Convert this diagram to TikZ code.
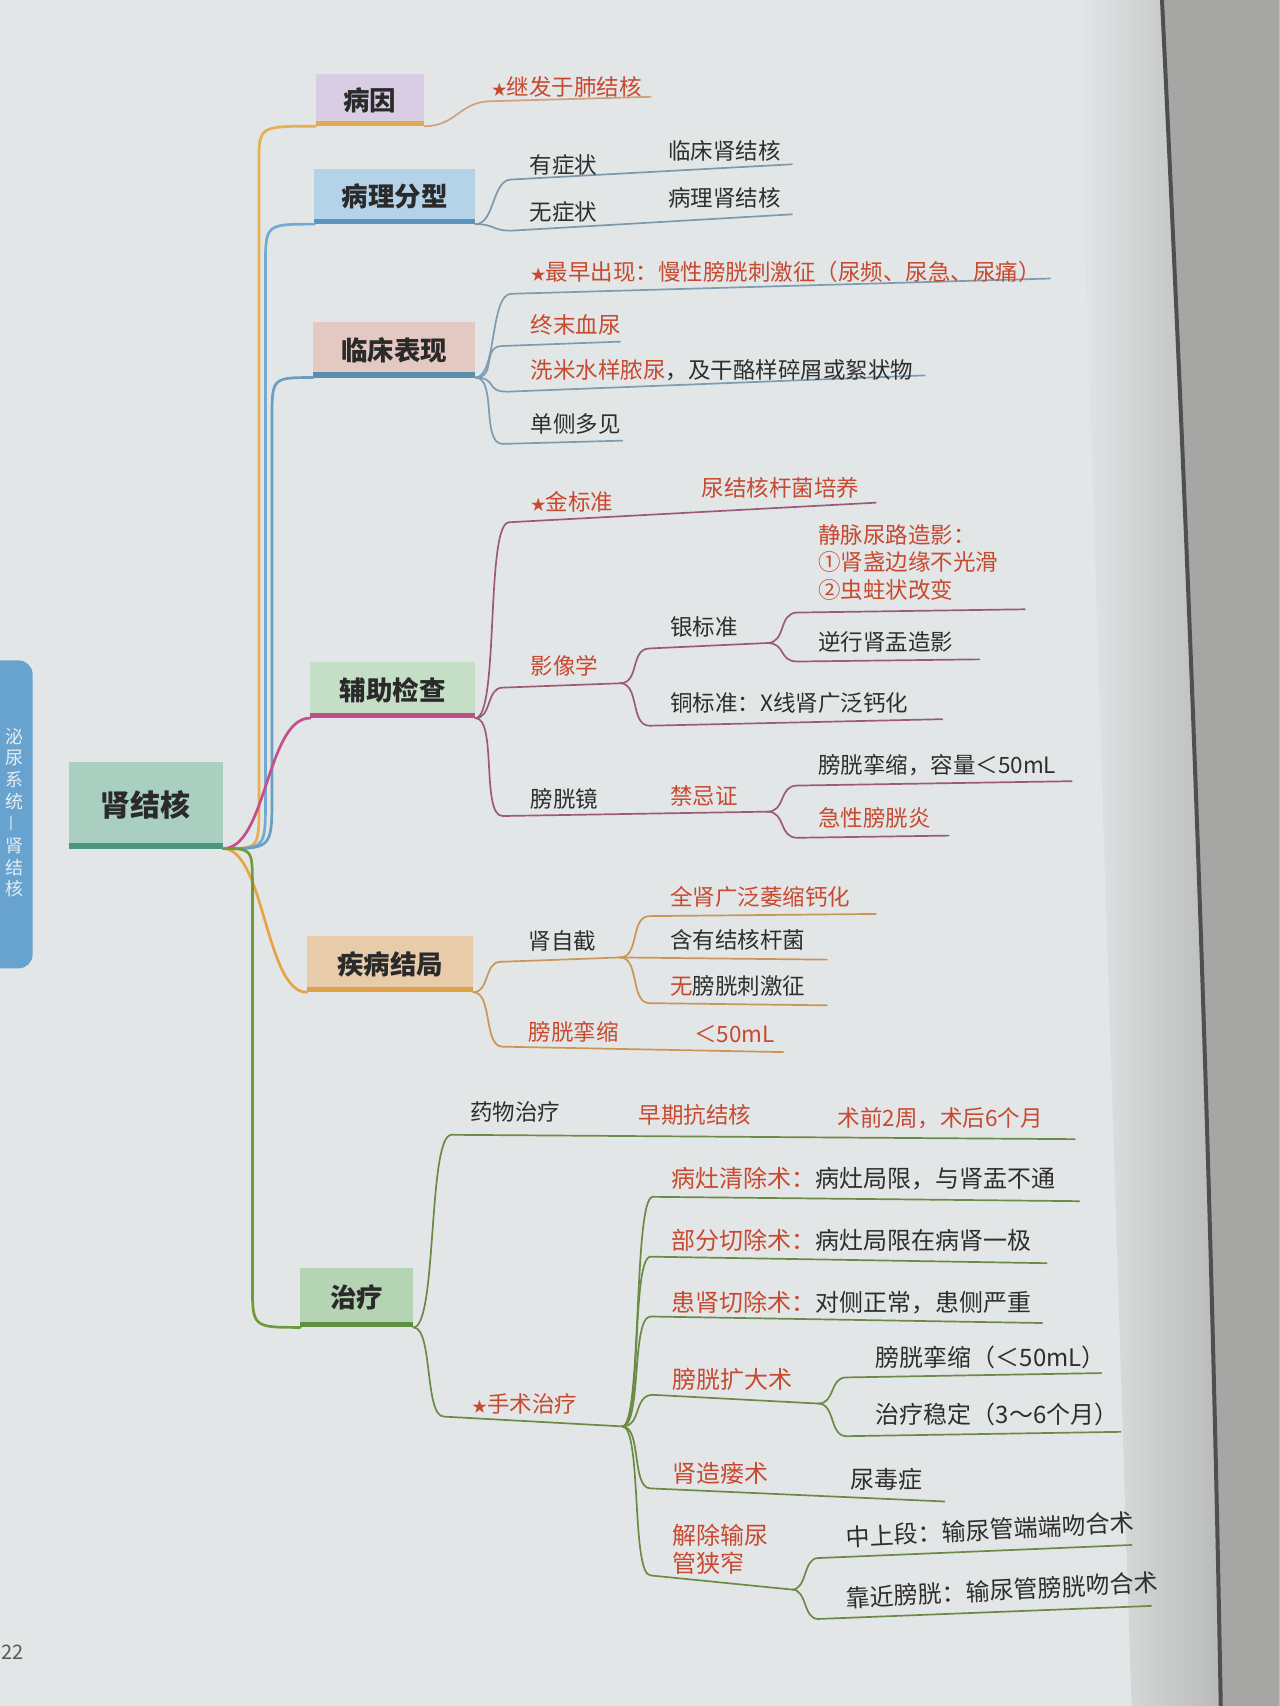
\documentclass[tikz,border=0pt]{standalone}
\usepackage{fontspec}
\setmainfont{Noto Sans CJK SC}
\usetikzlibrary{calc}
\definecolor{pagebg}{HTML}{E3E6E7}
\definecolor{edgel}{HTML}{B9BBBA}
\definecolor{edger}{HTML}{A6A7A5}
\definecolor{edged}{HTML}{4E4F4E}
\definecolor{tabblue}{HTML}{67A3CE}
\definecolor{tabtxt}{HTML}{E4EDF3}
\definecolor{dk}{HTML}{2E2E2E}
\definecolor{rd}{HTML}{C7492F}
\definecolor{boxtxt}{HTML}{2A2A2A}
\definecolor{rootf}{HTML}{A8CFC0}\definecolor{rootb}{HTML}{4B9680}
\definecolor{byf}{HTML}{D8CDE2}\definecolor{byb}{HTML}{E0A950}
\definecolor{blf}{HTML}{B5D3E8}\definecolor{blb}{HTML}{5B93BD}
\definecolor{lcf}{HTML}{E4C8C2}\definecolor{lcb}{HTML}{5A8EAC}
\definecolor{fzf}{HTML}{C5DEC6}\definecolor{fzb}{HTML}{C0508A}
\definecolor{jbf}{HTML}{E8CCAA}\definecolor{jbb}{HTML}{E0A04A}
\definecolor{zlf}{HTML}{B5D4B4}\definecolor{zlb}{HTML}{5E9040}
\definecolor{ba}{HTML}{E4B052}\definecolor{bb}{HTML}{73A9D2}\definecolor{bc}{HTML}{6B9FC2}
\definecolor{bd}{HTML}{C3508B}\definecolor{be}{HTML}{E5A446}\definecolor{bf}{HTML}{6F9B3E}
\definecolor{sa}{HTML}{CFA27A}\definecolor{sb}{HTML}{7E98AB}\definecolor{sc}{HTML}{7C9CB2}
\definecolor{sd}{HTML}{9B5B78}\definecolor{se}{HTML}{C99655}\definecolor{sf}{HTML}{6B8A45}
\newcommand\mystar{{\fontsize{15}{15}\selectfont ★}}
\tikzset{
  every node/.style={inner sep=0pt, outer sep=0pt},
  txt/.style={anchor=west, font=\fontsize{22.5}{27.8}\selectfont, text=dk, align=left},
  rtxt/.style={txt, text=rd},
  ltxt/.style={txt, font=\fontsize{24}{28}\selectfont},
  lrtxt/.style={ltxt, text=rd},
  box/.style={font=\fontsize{26.5}{30}\selectfont\bfseries, text=boxtxt},
  tabch/.style={font=\fontsize{18}{18}\selectfont, text=tabtxt},
  sub/.style={line width=1.7pt, line cap=round},
  mainln/.style={line width=2.7pt, line cap=round},
  bar/.style={line width=5.5pt},
  scurve/.style={to path={.. controls ($(\tikztostart)+(#1,0)$) and ($(\tikztotarget)-(#1,0)$) .. (\tikztotarget)}},
}
\begin{document}
\begin{tikzpicture}[x=1.0884pt,y=-1.0884pt]
\useasboundingbox (0,0) rectangle (1176,1568);
% page
\fill[pagebg] (0,0) rectangle (1176,1568);
\shade[left color=pagebg, right color=edgel] (990,0) -- (1068,0) .. controls (1092,500) and (1112,1000) .. (1122,1568) -- (1040,1568) -- cycle;
\fill[edger] (1068,0) .. controls (1092,500) and (1112,1000) .. (1122,1568) -- (1176,1568) -- (1176,0) -- cycle;
\draw[edged, line width=4pt] (1068,0) .. controls (1092,500) and (1112,1000) .. (1122,1568);
% side tab
\fill[tabblue, rounded corners=14] (-30,607) rectangle (30,890);
\foreach \ch [count=\i] in {泌,尿,系,统} \node[tabch] (tab\i) at (13,657+\i*20) {\ch};
\node[tabch, rotate=90] (tab5) at (13,757) {—};
\foreach \ch [count=\i] in {肾,结,核} \node[tabch] (tabb\i) at (13,757+\i*20) {\ch};
\node[font=\fontsize{20}{20}\selectfont, text=dk!80, anchor=west] (pg) at (1,1519) {22};
% boxes
\node[box, fill=rootf, minimum width=154.5pt, minimum height=87pt, font=\fontsize{30}{34}\selectfont\bfseries] (root) at (134,740) {肾结核};
\node[box, fill=byf, minimum width=108.8pt, minimum height=52.2pt] (by) at (340,92) {病因};
\node[box, fill=blf, minimum width=161pt, minimum height=55.5pt] (bl) at (363,180.5) {病理分型};
\node[box, fill=lcf, minimum width=162pt, minimum height=55.5pt] (lc) at (362.5,321.5) {临床表现};
\node[box, fill=fzf, minimum width=165.4pt, minimum height=56.6pt] (fz) at (361,634) {辅助检查};
\node[box, fill=jbf, minimum width=166.5pt, minimum height=56.6pt] (jb) at (358.5,886) {疾病结局};
\node[box, fill=zlf, minimum width=113.2pt, minimum height=59.9pt] (zl) at (328,1192.5) {治疗};
\foreach \n/\c in {root/rootb, by/byb, bl/blb, lc/lcb, fz/fzb, jb/jbb, zl/zlb}
  \draw[bar, \c] ([yshift=2.75pt]\n.south west) -- ([yshift=2.75pt]\n.south east);
% main branches
\coordinate (m1a) at (238,740); \coordinate (m1b) at (238,150);
\coordinate (m2a) at (244,735); \coordinate (m2b) at (244,245);
\coordinate (m3a) at (250,730); \coordinate (m3b) at (250,385);
\coordinate (m6a) at (232,815); \coordinate (m6b) at (232,1180);
\draw[mainln, ba] (root.south east) .. controls (m1a |- root.south east) .. (m1a) -- (m1b) .. controls (m1b |- by.south west) .. (by.south west);
\draw[mainln, bb] (root.south east) .. controls (m2a |- root.south east) .. (m2a) -- (m2b) .. controls (m2b |- bl.south west) .. (bl.south west);
\draw[mainln, bc] (root.south east) .. controls (m3a |- root.south east) .. (m3a) -- (m3b) .. controls (m3b |- lc.south west) .. (lc.south west);
\draw[mainln, bd] (root.south east) to[scurve=40] (fz.south west);
\draw[mainln, be] (root.south east) to[scurve=38] (jb.south west);
\draw[mainln, bf] (root.south east) .. controls (m6a |- root.south east) .. (m6a) -- (m6b) .. controls (m6b |- zl.south west) .. (zl.south west);
% 病因
\coordinate (c1s) at (452,93); \coordinate (c1e) at (598,89);
\draw[sub, sa] (by.south east) to[scurve=30] (c1s) -- (c1e);
\node[rtxt] (t1) at (452,80) {\mystar 继发于肺结核};
% 病理分型
\coordinate (c2s) at (470,165); \coordinate (c2e) at (728,151);
\coordinate (c3s) at (470,212); \coordinate (c3e) at (728,197);
\draw[sub, sb] (bl.south east) to[scurve=18] (c2s) -- (c2e);
\draw[sub, sb] (bl.south east) to[scurve=18] (c3s) -- (c3e);
\node[txt] (t2) at (487,152) {有症状};
\node[txt] (t3) at (614,139) {临床肾结核};
\node[txt] (t4) at (487,195) {无症状};
\node[txt] (t5) at (614,182) {病理肾结核};
% 临床表现
\coordinate (c4s) at (470,270); \coordinate (c4e) at (965,256);
\coordinate (c5s) at (462,318); \coordinate (c5e) at (570,314);
\coordinate (c6s) at (466,360); \coordinate (c6e) at (850,345);
\coordinate (c7s) at (462,408); \coordinate (c7e) at (572,405);
\foreach \s/\e in {c4s/c4e, c5s/c5e, c6s/c6e, c7s/c7e}
  \draw[sub, sc] (lc.south east) to[scurve=20] (\s) -- (\e);
\node[rtxt] (t6) at (488,250) {\mystar 最早出现：慢性膀胱刺激征（尿频、尿急、尿痛）};
\node[rtxt] (t7) at (488,299) {终末血尿};
\node[txt] (t8) at (488,340) {\textcolor{rd}{洗米水样脓尿}，及干酪样碎屑或絮状物};
\node[txt] (t9) at (488,390) {单侧多见};
% 辅助检查
\coordinate (c8s) at (468,480); \coordinate (c8e) at (805,462);
\coordinate (c9s) at (462,632); \coordinate (c9e) at (570,628);
\coordinate (c10s) at (597,596); \coordinate (c10e) at (705,591);
\coordinate (c11s) at (733,563); \coordinate (c11e) at (942,560);
\coordinate (c12s) at (733,608); \coordinate (c12e) at (900,606);
\coordinate (c13s) at (597,667); \coordinate (c13e) at (866,661);
\coordinate (c14s) at (462,750); \coordinate (c14e) at (705,746);
\coordinate (c15s) at (733,722); \coordinate (c15e) at (985,718);
\coordinate (c16s) at (733,770); \coordinate (c16e) at (872,768);
\draw[sub, sd] (fz.south east) to[scurve=22] (c8s) -- (c8e);
\draw[sub, sd] (fz.south east) to[scurve=15] (c9s) -- (c9e);
\draw[sub, sd] (c9e) to[scurve=18] (c10s) -- (c10e);
\draw[sub, sd] (c10e) to[scurve=18] (c11s) -- (c11e);
\draw[sub, sd] (c10e) to[scurve=18] (c12s) -- (c12e);
\draw[sub, sd] (c9e) to[scurve=18] (c13s) -- (c13e);
\draw[sub, sd] (fz.south east) to[scurve=20] (c14s) -- (c14e);
\draw[sub, sd] (c14e) to[scurve=18] (c15s) -- (c15e);
\draw[sub, sd] (c14e) to[scurve=18] (c16s) -- (c16e);
\node[rtxt] (t10) at (488,461) {\mystar 金标准};
\node[rtxt] (t11) at (645,448) {尿结核杆菌培养};
\node[rtxt] (t12) at (488,612) {影像学};
\node[txt] (t13) at (616,576) {银标准};
\node[rtxt] (t14) at (752,517) {静脉尿路造影：\\①肾盏边缘不光滑\\②虫蛀状改变};
\node[txt] (t15) at (752,590) {逆行肾盂造影};
\node[txt] (t16) at (616,646) {铜标准：X线肾广泛钙化};
\node[txt] (t17) at (488,734) {膀胱镜};
\node[rtxt] (t18) at (616,732) {禁忌证};
\node[txt] (t19) at (752,703) {膀胱挛缩，容量＜50mL};
\node[rtxt] (t20) at (752,752) {急性膀胱炎};
% 疾病结局
\coordinate (c17s) at (460,884); \coordinate (c17e) at (570,880);
\coordinate (c18s) at (597,842); \coordinate (c18e) at (805,840);
\coordinate (c19e) at (760,882);
\coordinate (c20s) at (597,922); \coordinate (c20e) at (760,924);
\coordinate (c21s) at (462,962); \coordinate (c21e) at (720,967);
\draw[sub, se] (jb.south east) to[scurve=15] (c17s) -- (c17e);
\draw[sub, se] (c17e) to[scurve=18] (c18s) -- (c18e);
\draw[sub, se] (c17e) -- (c19e);
\draw[sub, se] (c17e) to[scurve=18] (c20s) -- (c20e);
\draw[sub, se] (jb.south east) to[scurve=18] (c21s) -- (c21e);
\node[txt] (t21) at (486,865) {肾自截};
\node[rtxt] (t22) at (616,824) {全肾广泛萎缩钙化};
\node[txt] (t23) at (616,864) {含有结核杆菌};
\node[txt] (t24) at (616,906) {\textcolor{rd}{无}膀胱刺激征};
\node[rtxt] (t25) at (486,948) {膀胱挛缩};
\node[rtxt] (t26) at (638,950) {＜50mL};
% 治疗
\coordinate (c22s) at (415,1043); \coordinate (c22e) at (988,1047);
\coordinate (c23s) at (408,1302); \coordinate (c23e) at (572,1311);
\coordinate (c24s) at (600,1100); \coordinate (c24e) at (992,1104);
\coordinate (c25s) at (598,1155); \coordinate (c25e) at (962,1161);
\coordinate (c26s) at (598,1210); \coordinate (c26e) at (958,1216);
\coordinate (c27s) at (600,1282); \coordinate (c27e) at (752,1290);
\coordinate (c28s) at (778,1266); \coordinate (c28e) at (1012,1262);
\coordinate (c29s) at (778,1320); \coordinate (c29e) at (1030,1316);
\coordinate (c30s) at (598,1368); \coordinate (c30e) at (868,1380);
\coordinate (c31s) at (598,1448); \coordinate (c31e) at (728,1461);
\coordinate (c32s) at (752,1432); \coordinate (c32e) at (1040,1420);
\coordinate (c33s) at (752,1488); \coordinate (c33e) at (1058,1476);
\draw[sub, sf] (zl.south east) to[scurve=22] (c22s) -- (c22e);
\draw[sub, sf] (zl.south east) to[scurve=18] (c23s) -- (c23e);
\foreach \s/\e in {c24s/c24e, c25s/c25e, c26s/c26e, c27s/c27e, c30s/c30e, c31s/c31e}
  \draw[sub, sf] (c23e) to[scurve=18] (\s) -- (\e);
\draw[sub, sf] (c27e) to[scurve=16] (c28s) -- (c28e);
\draw[sub, sf] (c27e) to[scurve=16] (c29s) -- (c29e);
\draw[sub, sf] (c31e) to[scurve=14] (c32s) -- (c32e);
\draw[sub, sf] (c31e) to[scurve=14] (c33s) -- (c33e);
\node[txt] (t27) at (432,1022) {药物治疗};
\node[rtxt] (t28) at (587,1025) {早期抗结核};
\node[rtxt] (t29) at (770,1028) {术前2周，术后6个月};
\node[rtxt] (t30) at (434,1290) {\mystar 手术治疗};
\node[ltxt] (t31) at (617,1083) {\textcolor{rd}{病灶清除术：}病灶局限，与肾盂不通};
\node[ltxt] (t32) at (617,1140) {\textcolor{rd}{部分切除术：}病灶局限在病肾一极};
\node[ltxt] (t33) at (617,1197) {\textcolor{rd}{患肾切除术：}对侧正常，患侧严重};
\node[lrtxt] (t34) at (618,1268) {膀胱扩大术};
\node[ltxt] (t35) at (805,1248) {膀胱挛缩（＜50mL）};
\node[ltxt] (t36) at (805,1300) {治疗稳定（3～6个月）};
\node[lrtxt] (t37) at (618,1354) {肾造瘘术};
\node[ltxt] (t38) at (782,1360) {尿毒症};
\node[lrtxt] (t39) at (618,1424) {解除输尿\\管狭窄};
\node[ltxt, rotate=3] (t40) at (778,1413) {中上段：输尿管端端吻合术};
\node[ltxt, rotate=3] (t41) at (778,1469) {靠近膀胱：输尿管膀胱吻合术};
\end{tikzpicture}
\end{document}
